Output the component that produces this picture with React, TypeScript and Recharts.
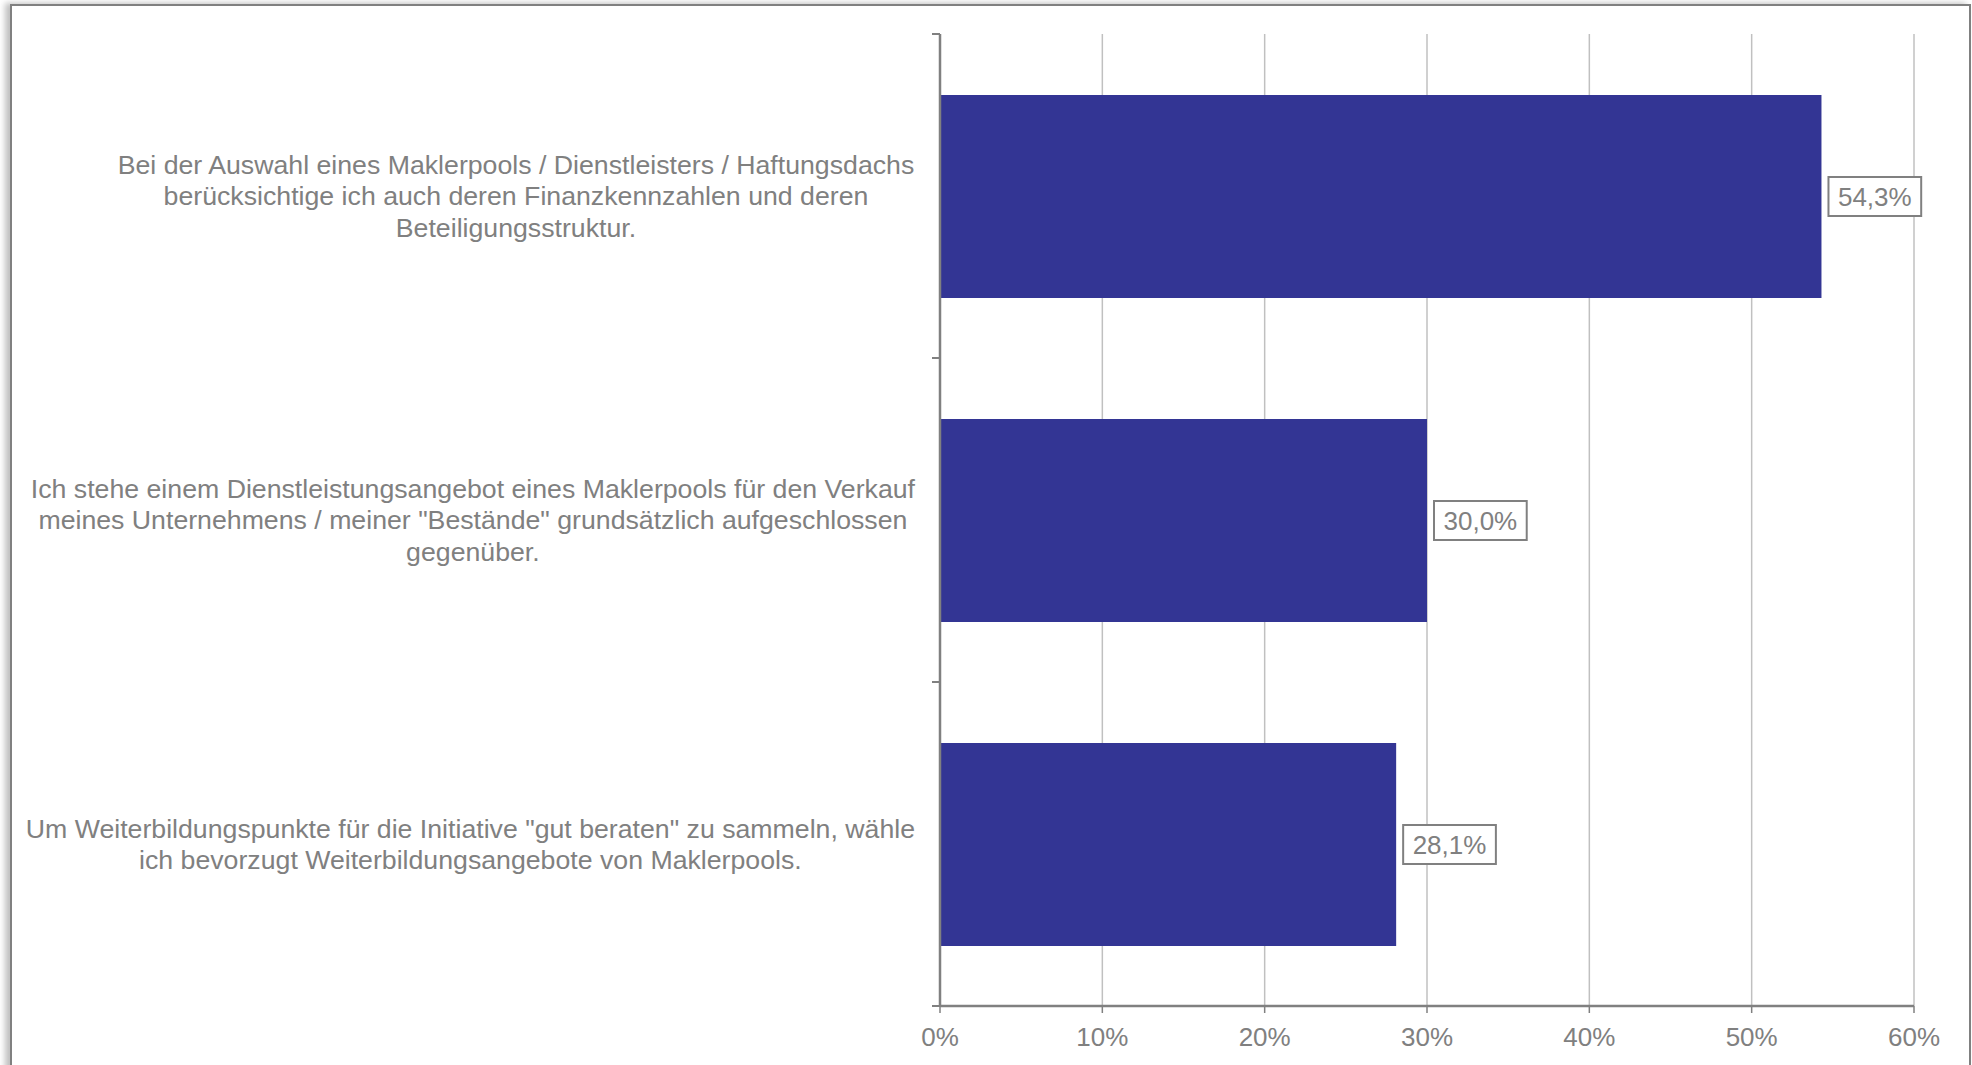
import React from "react";
import {
  BarChart,
  Bar,
  XAxis,
  YAxis,
  CartesianGrid,
  LabelList,
} from "recharts";

const categories = [
  "Bei der Auswahl eines Maklerpools / Dienstleisters / Haftungsdachs berücksichtige ich auch deren Finanzkennzahlen und deren Beteiligungsstruktur.",
  'Ich stehe einem Dienstleistungsangebot eines Maklerpools für den Verkauf meines Unternehmens / meiner "Bestände" grundsätzlich aufgeschlossen gegenüber.',
  'Um Weiterbildungspunkte für die Initiative "gut beraten" zu sammeln, wähle ich bevorzugt Weiterbildungsangebote von Maklerpools.',
];

const categoryLines = [
  [
    "Bei der Auswahl eines Maklerpools / Dienstleisters / Haftungsdachs",
    "berücksichtige ich auch deren Finanzkennzahlen und deren",
    "Beteiligungsstruktur.",
  ],
  [
    "Ich stehe einem Dienstleistungsangebot eines Maklerpools für den Verkauf",
    'meines Unternehmens / meiner "Bestände" grundsätzlich aufgeschlossen',
    "gegenüber.",
  ],
  [
    'Um Weiterbildungspunkte für die Initiative "gut beraten" zu sammeln, wähle',
    "ich bevorzugt Weiterbildungsangebote von Maklerpools.",
  ],
];

const shares = [54.3, 30.0, 28.1];
const xTicks = [0, 10, 20, 30, 40, 50, 60];

const data = categories.map((name, i) => ({
  name,
  value: shares[i],
  lines: categoryLines[i],
}));

const FONT = '"Liberation Sans", Arial, sans-serif';
const GRAY = "#808080";
const BAR = "#333594";
const CAT_SIZE = 26.7;

let ctx: CanvasRenderingContext2D | null = null;
function textWidth(s: string, size: number) {
  if (!ctx) ctx = document.createElement("canvas").getContext("2d");
  if (!ctx) return s.length * size * 0.5;
  ctx.font = `${size}px ${FONT}`;
  return ctx.measureText(s).width;
}

const fmt = (v: number) => `${v.toFixed(1).replace(".", ",")}%`;

function CategoryTick(props: any) {
  const { x, y, payload, index } = props;
  const lines: string[] = categoryLines[index ?? payload.index] || [payload.value];
  const half = payload.offset ?? 162;
  const maxW = Math.max(...lines.map((l) => textWidth(l, CAT_SIZE)));
  // text blocks end a little left of the tick marks, lines centred inside
  const cx = x - 17 - maxW / 2;
  const lh = 31.5;
  const startY = y - ((lines.length - 1) * lh) / 2;
  return (
    <g>
      <line x1={x} x2={x + 8} y1={y - half} y2={y - half} stroke={GRAY} strokeWidth={2} />
      <line x1={x} x2={x + 8} y1={y + half} y2={y + half} stroke={GRAY} strokeWidth={2} />
      {lines.map((l, i) => (
        <text
          key={i}
          x={cx}
          y={startY + i * lh}
          dy="0.35em"
          textAnchor="middle"
          fill={GRAY}
          fontSize={CAT_SIZE}
          fontFamily={FONT}
        >
          {l}
        </text>
      ))}
    </g>
  );
}

function ValueLabel(props: any) {
  const { x, y, width, height, value } = props;
  const txt = fmt(value);
  const w = textWidth(txt, 26) + 19;
  const h = 39;
  const bx = x + width + 7;
  const cy = y + height / 2;
  return (
    <g>
      <rect x={bx} y={cy - h / 2} width={w} height={h} fill="#fff" stroke={GRAY} strokeWidth={2} />
      <text
        x={bx + w / 2}
        y={cy}
        dy="0.35em"
        textAnchor="middle"
        fill={GRAY}
        fontSize={26}
        fontFamily={FONT}
      >
        {txt}
      </text>
    </g>
  );
}

export default function App() {
  return (
    <div
      style={{
        position: "absolute",
        left: 0,
        top: 0,
        width: 1972,
        height: 1065,
        overflow: "hidden",
        background: "#fff",
      }}
    >
      <div
        style={{
          position: "absolute",
          left: 10,
          top: 4,
          width: 1961,
          height: 1100,
          boxSizing: "border-box",
          border: `2px solid ${GRAY}`,
          boxShadow: "-5px -1px 6px rgba(0,0,0,0.25)",
          background: "#fff",
        }}
      />
      <div style={{ position: "absolute", left: 0, top: 0 }}>
        <BarChart
          width={1972}
          height={1065}
          data={data}
          layout="vertical"
          margin={{ top: 34, right: 58, bottom: 0, left: 0 }}
          style={{ fontFamily: FONT }}
        >
          <CartesianGrid horizontal={false} stroke="#c0c0c0" strokeWidth={1.5} />
          <XAxis
            type="number"
            domain={[0, 60]}
            ticks={xTicks}
            tickFormatter={(v) => `${v}%`}
            height={59}
            tick={{ fill: GRAY, fontSize: 26, fontFamily: FONT }}
            tickLine={{ stroke: GRAY, strokeWidth: 1.5 }}
            tickSize={7}
            tickMargin={15}
            axisLine={{ stroke: GRAY, strokeWidth: 2.5 }}
            interval={0}
          />
          <XAxis
            xAxisId="top"
            orientation="top"
            type="number"
            domain={[0, 60]}
            height={0}
            tick={false}
            tickLine={false}
            axisLine={{ stroke: GRAY, strokeWidth: 1.5 }}
          />
          <YAxis
            type="category"
            dataKey="name"
            width={940}
            tick={<CategoryTick />}
            tickLine={false}
            tickSize={8}
            tickMargin={0}
            axisLine={{ stroke: GRAY, strokeWidth: 2.5 }}
            interval={0}
          />
          <YAxis
            yAxisId="right"
            orientation="right"
            type="category"
            dataKey="name"
            width={0}
            tick={false}
            tickLine={false}
            axisLine={{ stroke: GRAY, strokeWidth: 1.5 }}
          />
          <Bar dataKey="value" fill={BAR} barSize={203} isAnimationActive={false}>
            <LabelList dataKey="value" content={<ValueLabel />} />
          </Bar>
        </BarChart>
      </div>
    </div>
  );
}
